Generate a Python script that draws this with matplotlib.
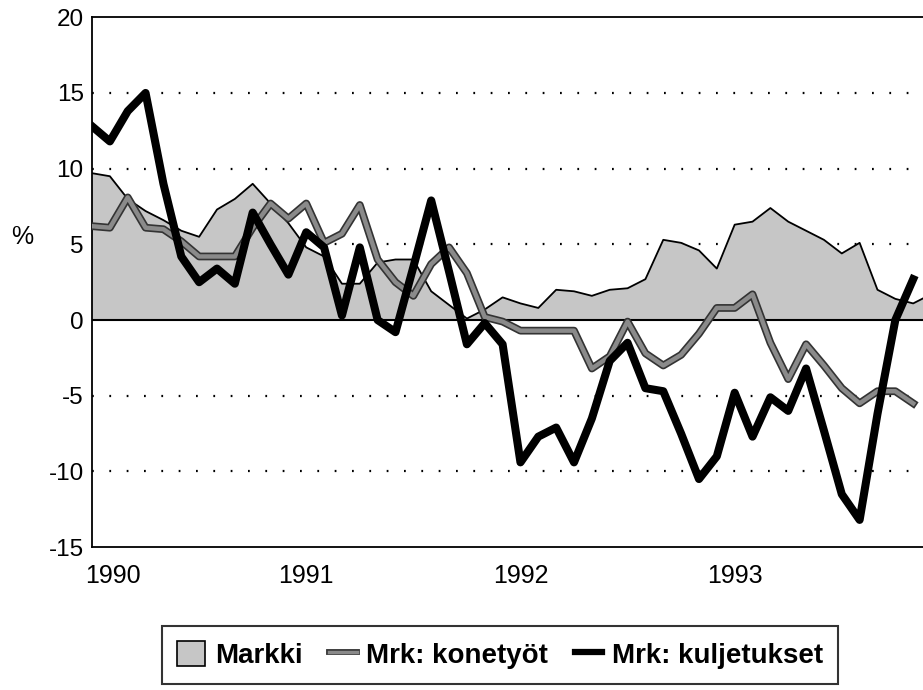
import numpy as np
import matplotlib
matplotlib.use("Agg")
import matplotlib.pyplot as plt
import matplotlib.patheffects as pe
import matplotlib.transforms as mtransforms

plt.rcParams['font.family'] = ['Liberation Sans', 'DejaVu Sans']
plt.rcParams['axes.unicode_minus'] = False

# monthly values, Jan 1990 ->
markki = [9.7, 9.5, 8.0, 7.2, 6.6, 5.9, 5.5, 7.3, 8.0, 9.0, 7.7, 6.4,
          4.8, 4.2, 2.4, 2.4, 3.8, 4.0, 4.0, 1.9, 1.0, 0.1, 0.7, 1.5,
          1.1, 0.8, 2.0, 1.9, 1.6, 2.0, 2.1, 2.7, 5.3, 5.1, 4.6, 3.4,
          6.3, 6.5, 7.4, 6.5, 5.9, 5.3, 4.4, 5.1, 2.0, 1.4, 1.1, 1.7]
konetyot = [6.2, 6.1, 8.1, 6.1, 6.0, 5.2, 4.2, 4.2, 4.2, 6.1, 7.7, 6.7,
            7.7, 5.1, 5.7, 7.6, 4.0, 2.5, 1.6, 3.7, 4.8, 3.1, 0.2, -0.1,
            -0.7, -0.7, -0.7, -0.7, -3.2, -2.4, -0.1, -2.2, -3.0, -2.3, -0.9, 0.8,
            0.8, 1.7, -1.5, -3.9, -1.6, -3.0, -4.5, -5.5, -4.7, -4.7, -5.5]
kuljetukset = [12.8, 11.8, 13.8, 15.0, 9.0, 4.2, 2.5, 3.4, 2.4, 7.1, 5.0, 3.0,
               5.8, 4.8, 0.3, 4.8, 0.0, -0.8, 3.5, 7.9, 3.2, -1.6, -0.2, -1.6,
               -9.4, -7.7, -7.1, -9.4, -6.5, -2.7, -1.5, -4.5, -4.7, -7.5, -10.5, -9.0,
               -4.8, -7.7, -5.1, -6.0, -3.2, -7.3, -11.5, -13.2, -6.2, 0.0, 2.7]
years = ['1990', '1991', '1992', '1993']

fig = plt.figure(figsize=(9.23, 6.9), dpi=100)
ax = fig.add_axes([0.0997, 0.207, 0.9003, 0.768])

x_m = np.arange(len(markki))
x_k = np.arange(len(konetyot))
x_l = np.arange(len(kuljetukset))

for yv in [-10, -5, 5, 10, 15]:
    ax.axhline(yv, color='black', lw=1.6, ls=(0, (0.8, 7)), zorder=1)

ax.fill_between(x_m, markki, 0, facecolor='#c6c6c6', edgecolor='none', zorder=2)
ax.plot(x_m, markki, color='black', lw=1.3, zorder=3)
ax.axhline(0, color='black', lw=1.5, zorder=3)

ax.plot(x_k, konetyot, color='#8a8a8a', lw=3.2, zorder=4,
        path_effects=[pe.Stroke(linewidth=5.6, foreground='#333333'), pe.Normal()])
ax.plot(x_l, kuljetukset, color='black', lw=5.8, zorder=5)

ax.set_xlim(0, 46.55)
ax.set_ylim(-15, 20)
ax.set_yticks(range(-15, 21, 5))
ax.set_xticks([0, 12, 24, 36])
ax.set_xticklabels(years)
ax.tick_params(axis='both', length=0)
ax.tick_params(axis='x', pad=12, labelsize=18)
ax.tick_params(axis='y', pad=6, labelsize=17.5)

# first year label sits a bit right of the axis corner
lab0 = ax.get_xticklabels()[0]
lab0.set_transform(lab0.get_transform() + mtransforms.ScaledTranslation(0.21, 0, fig.dpi_scale_trans))

ax.set_ylabel('%', rotation=0, fontsize=18, va='center', ha='center')
ax.yaxis.set_label_coords(-0.084, 0.585)

ax.spines['right'].set_visible(False)
for s in ['left', 'top', 'bottom']:
    ax.spines[s].set_linewidth(1.3)

h1 = plt.Rectangle((0, 0), 1, 1, facecolor='#c6c6c6', edgecolor='black', lw=1.2)
h2 = plt.Line2D([], [], color='#8a8a8a', lw=2.5,
                path_effects=[pe.Stroke(linewidth=4.2, foreground='#333333'), pe.Normal()])
h3 = plt.Line2D([], [], color='black', lw=4.5)
leg = fig.legend([h1, h2, h3], ['Markki', 'Mrk: konetyöt', 'Mrk: kuljetukset'],
                 loc='center', bbox_to_anchor=(0.542, 0.0507), ncol=3,
                 prop={'weight': 'bold', 'size': 20},
                 frameon=True, fancybox=False, edgecolor='black', borderpad=0.55,
                 borderaxespad=0, handlelength=1.0, handleheight=1.0,
                 handletextpad=0.35, columnspacing=0.95)
leg.get_frame().set_linewidth(1.5)

fig.savefig('out.png', dpi=100)
